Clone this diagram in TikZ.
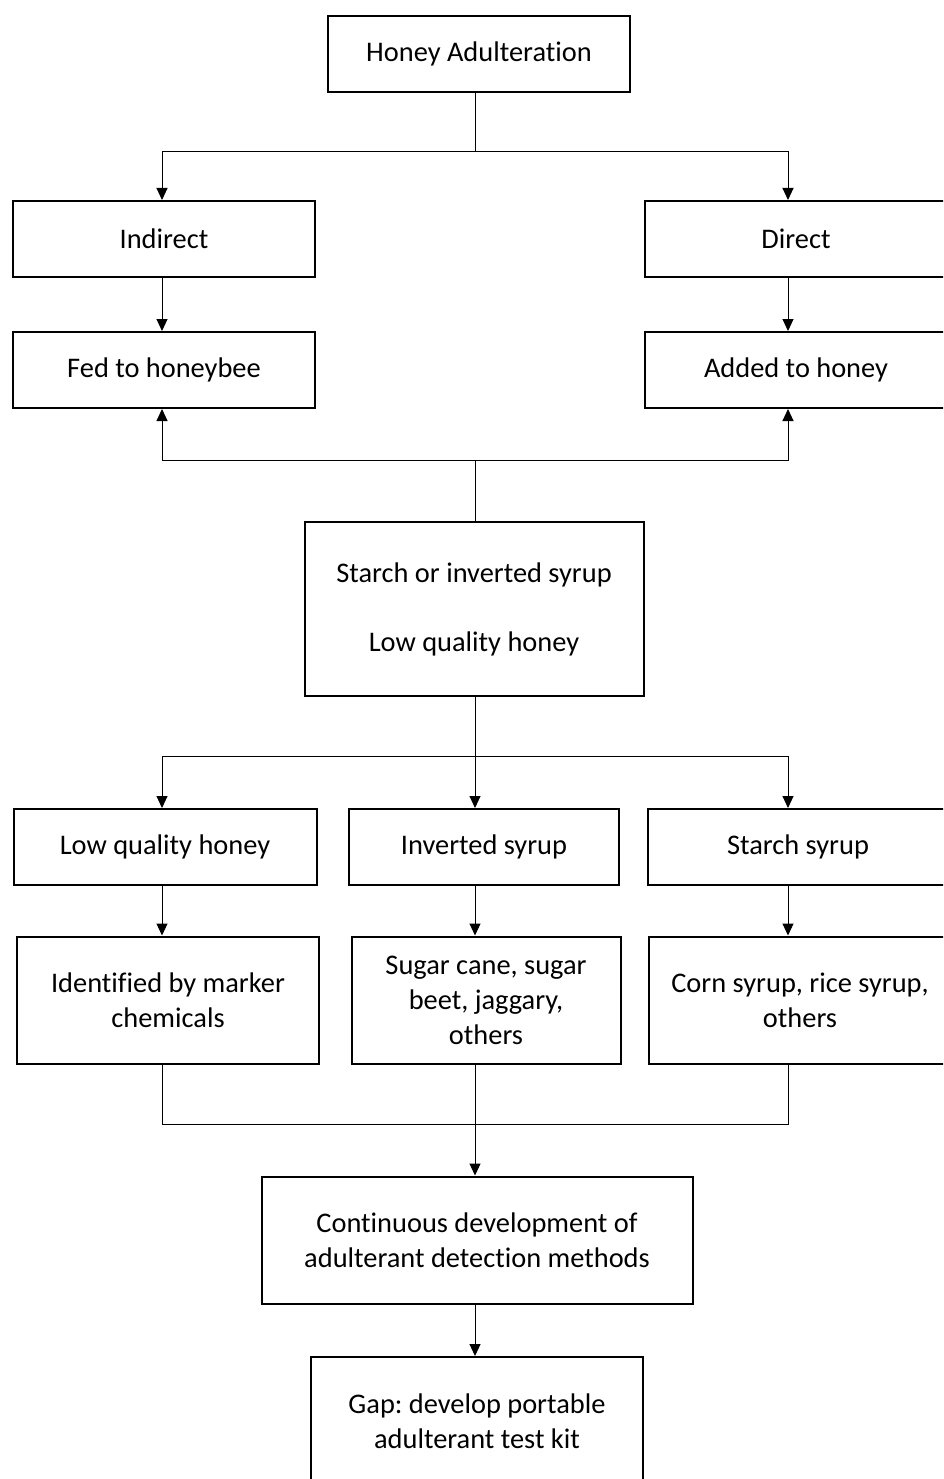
\documentclass[tikz,border=0pt]{standalone}
\usepackage{fontspec}
\setmainfont{Carlito}[Ligatures=NoCommon]
\usetikzlibrary{arrows.meta}
\frenchspacing

\begin{document}
\begin{tikzpicture}[x=1pt, y=-1pt, line width=1pt,
  box/.style={draw, line width=2pt, align=center, inner sep=0pt,
    font=\fontsize{28.4}{35}\selectfont},
  arr/.style={-{Triangle[length=12pt, width=11pt]}}]

\useasboundingbox (0,0) rectangle (943,1479);
\clip (0,0) rectangle (943,1479);

\coordinate (cL) at (162,0);
\coordinate (cM) at (475,0);
\coordinate (cR) at (788,0);

\node (H) at (479,54) [box, minimum width=302pt, minimum height=76pt] {Honey Adulteration};

\node (I) at (164,239) [box, minimum width=302pt, minimum height=76pt] {Indirect};
\node (D) at (796,239) [box, minimum width=302pt, minimum height=76pt] {Direct};
\node (F) at (164,370) [box, minimum width=302pt, minimum height=76pt] {Fed to honeybee};
\node (A) at (796,370) [box, minimum width=302pt, minimum height=76pt] {Added to honey};

\node (S) at (474,609) [box, minimum width=339pt, minimum height=174pt] {Starch or inverted syrup\\[34pt]Low quality honey};

\node (L1) at (165,847) [box, minimum width=303pt, minimum height=76pt] {Low quality honey};
\node (L2) at (484,847) [box, minimum width=270pt, minimum height=76pt] {Inverted syrup};
\node (L3) at (798,847) [box, minimum width=300pt, minimum height=76pt] {Starch syrup};

\node (M1) at (168,1000) [box, minimum width=302pt, minimum height=127pt] {Identified by marker\\chemicals};
\node (M2) at (486,1000) [box, minimum width=269pt, minimum height=127pt] {Sugar cane, sugar\\beet, jaggary,\\others};
\node (M3) at (800,1000) [box, minimum width=302pt, minimum height=127pt] {Corn syrup, rice syrup,\\others};

\node (C) at (477,1240) [box, minimum width=431pt, minimum height=127pt] {Continuous development of\\adulterant detection methods};
\node (G) at (477,1421) [box, minimum width=332pt, minimum height=128pt] {Gap: develop portable\\adulterant test kit};

\coordinate (J1) at (475,152);
\coordinate (J2) at (475,460);
\coordinate (J3) at (475,756);
\coordinate (J4) at (475,1124);

% top split
\draw (H.south -| cM) -- (J1);
\draw[arr] (J1) -| (I.north -| cL);
\draw[arr] (J1) -| (D.north -| cR);
\draw[arr] (I.south -| cL) -- (F.north -| cL);
\draw[arr] (D.south -| cR) -- (A.north -| cR);

% syrup feeds both
\draw (S.north -| cM) -- (J2);
\draw[arr] (J2) -| (F.south -| cL);
\draw[arr] (J2) -| (A.south -| cR);

% three kinds
\draw (S.south -| cM) -- (J3);
\draw[arr] (J3) -| (L1.north -| cL);
\draw[arr] (J3) -- (L2.north -| cM);
\draw[arr] (J3) -| (L3.north -| cR);
\draw[arr] (L1.south -| cL) -- (M1.north -| cL);
\draw[arr] (L2.south -| cM) -- (M2.north -| cM);
\draw[arr] (L3.south -| cR) -- (M3.north -| cR);

% merge
\draw (M1.south -| cL) -- (J4 -| cL) -- (J4 -| cR) -- (M3.south -| cR);
\draw[arr] (M2.south -| cM) -- (C.north -| cM);
\draw[arr] (C.south -| cM) -- (G.north -| cM);
\end{tikzpicture}
\end{document}
